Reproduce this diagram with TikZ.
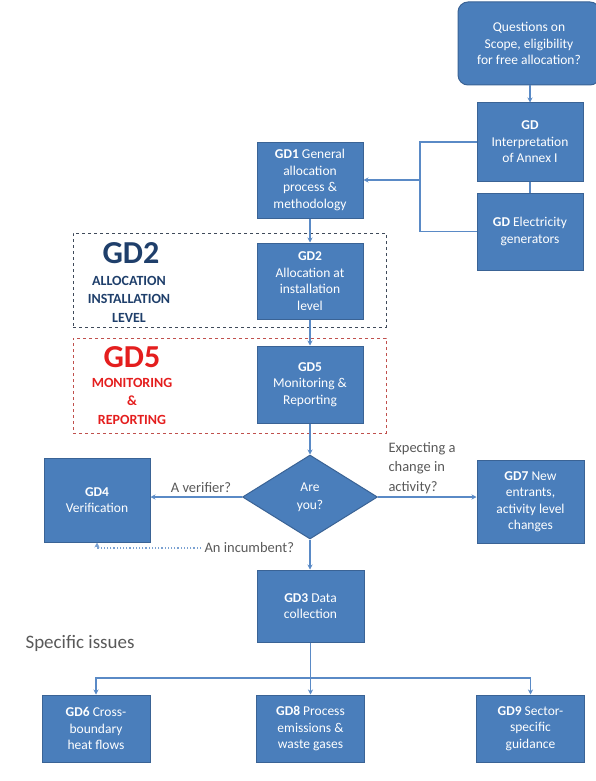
\documentclass[tikz,border=0pt]{standalone}
\usepackage{fontspec}
\setmainfont{Carlito}
\usetikzlibrary{shapes.geometric,arrows.meta,calc}

\definecolor{boxfill}{HTML}{4A7EBB}
\definecolor{boxedge}{HTML}{3A6395}
\definecolor{linkblue}{HTML}{5A8AC6}
\definecolor{labelgray}{HTML}{595959}
\definecolor{navytext}{HTML}{1F3F6B}
\definecolor{redtext}{HTML}{E41E1E}
\definecolor{frameslate}{HTML}{3F4A5A}
\definecolor{framered}{HTML}{C0504D}

\tikzset{
  gdbox/.style={draw=boxedge, fill=boxfill, line width=1pt, text=white,
    align=center, inner sep=1pt, font=\fontsize{13.5}{16.5}\selectfont},
  gddiamond/.style={diamond, draw=boxedge, fill=boxfill, line width=1pt,
    text=white, align=center, inner sep=0pt,
    font=\fontsize{13.5}{18}\selectfont},
  link/.style={draw=linkblue, line width=1.6pt},
  linkarrow/.style={link, -{Stealth[length=5pt,width=5pt]}},
  dottedlink/.style={draw=linkblue!80, line width=1.2pt, dotted,
    -{Stealth[length=5pt,width=5pt]}},
  frameslatebox/.style={draw=frameslate, dashed, line width=0.8pt},
  frameredbox/.style={draw=framered, dashed, line width=0.8pt},
  qlabel/.style={text=labelgray, font=\fontsize{14.5}{19.5}\selectfont},
  bigtag/.style={font=\fontsize{32}{34}\selectfont\bfseries},
  smalltag/.style={font=\fontsize{14}{18.5}\selectfont\bfseries, align=center},
}

\begin{document}
\begin{tikzpicture}[x=1pt,y=-1pt]
\useasboundingbox (0,0) rectangle (596,781);
\clip (0,0) rectangle (596,781);

% dashed frames around the GD2 and GD5 groups
\node[frameslatebox, minimum width=313pt, minimum height=94pt] (framegdtwo) at (229.5,280) {};
\node[frameredbox, minimum width=313pt, minimum height=95pt] (framegdfive) at (229.5,385.5) {};

% group captions
\node[bigtag, text=navytext] (tagtwo) at (131,253) {GD2};
\node[smalltag, text=navytext] (tagtwotext) at (129,299) {ALLOCATION\\INSTALLATION\\LEVEL};
\node[bigtag, text=redtext] (tagfive) at (132,357) {GD5};
\node[smalltag, text=redtext] (tagfivetext) at (132,401) {MONITORING\\\&\\REPORTING};

% boxes
\node[gdbox, rounded corners=10pt, minimum width=142pt, minimum height=83pt] (scope) at (529,43.5)
  {Questions on\\Scope, eligibility\\for free allocation?};
\node[gdbox, minimum width=106pt, minimum height=78pt] (annex) at (530,142)
  {\textbf{GD}\\Interpretation\\of Annex I};
\node[gdbox, minimum width=106pt, minimum height=77pt] (elec) at (530,231.5)
  {\textbf{GD} Electricity\\generators};
\node[gdbox, minimum width=106pt, minimum height=76pt] (gdone) at (310,180)
  {\textbf{GD1} General\\allocation\\process \&\\methodology};
\node[gdbox, minimum width=106pt, minimum height=76pt] (gdtwo) at (310,281)
  {\textbf{GD2}\\Allocation at\\installation\\level};
\node[gdbox, minimum width=106pt, minimum height=77pt] (gdfive) at (310,384.5)
  {\textbf{GD5}\\Monitoring \&\\Reporting};
\node[gddiamond, minimum width=135pt, minimum height=84pt] (areyou) at (310,497)
  {Are\\you?};
\node[gdbox, minimum width=106pt, minimum height=84pt] (gdfour) at (97,500)
  {\textbf{GD4}\\Verification};
\node[gdbox, minimum width=107pt, minimum height=83pt] (gdseven) at (530.5,501.5)
  {\textbf{GD7} New\\entrants,\\activity level\\changes};
\node[gdbox, minimum width=107pt, minimum height=72pt] (gdthree) at (310.5,606)
  {\textbf{GD3} Data\\collection};
\node[gdbox, minimum width=108pt, minimum height=67pt] (gdsix) at (96,728.5)
  {\textbf{GD6} Cross-\\boundary\\heat flows};
\node[gdbox, minimum width=108pt, minimum height=67pt] (gdeight) at (310.5,728.5)
  {\textbf{GD8} Process\\emissions \&\\waste gases};
\node[gdbox, minimum width=108pt, minimum height=67pt] (gdnine) at (530.5,728.5)
  {\textbf{GD9} Sector-\\specific\\guidance};

% labels
\node[qlabel] (verifier) at (201,488) {A verifier?};
\node[qlabel, align=left, anchor=west] (expect) at (385,468) {Expecting a\\change in\\activity?};
\node[qlabel, anchor=west] (incumbent) at (201,548) {An incumbent?};
\node[text=labelgray, font=\fontsize{19}{22}\selectfont, anchor=west] (specific) at (22,643) {Specific issues};

% connectors
\coordinate (bracket) at (420,180);
\coordinate (split) at (310.5,678);

\draw[linkarrow] (scope.south -| annex.north) -- (annex.north);
\draw[link] (annex.south) -- (elec.north);
\draw[link] (annex.west) -| (bracket) |- (elec.west);
\draw[linkarrow] (bracket) -- (gdone.east);
\draw[linkarrow] (gdone.south) -- (gdtwo.north);
\draw[linkarrow] (gdtwo.south) -- (gdfive.north);
\draw[linkarrow] (gdfive.south) -- (areyou.north);
\draw[linkarrow] (areyou.west) -- (gdfour.east |- areyou.west);
\draw[linkarrow] (areyou.east) -- (gdseven.west |- areyou.east);
\draw[linkarrow] (areyou.south) -- (gdthree.north -| areyou.south);
\draw[dottedlink] (incumbent.west) -- (gdfour.south |- incumbent.west) -- (gdfour.south);
\draw[link] (gdthree.south) -- (split);
\draw[linkarrow] (split) -- (gdeight.north);
\draw[linkarrow] (split) -| (gdsix.north);
\draw[linkarrow] (split) -| (gdnine.north);
\end{tikzpicture}
\end{document}
